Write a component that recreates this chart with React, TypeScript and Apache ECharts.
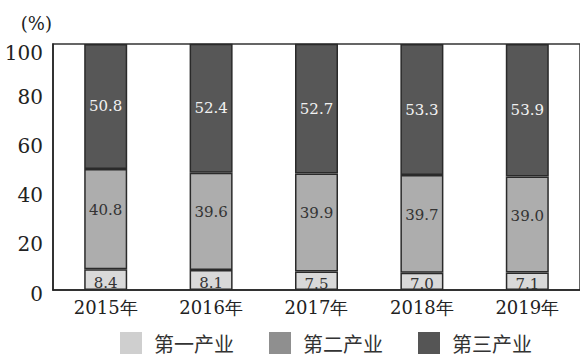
import React, { useEffect, useRef } from "react";
import * as echarts from "echarts";

const categories = ["2015年", "2016年", "2017年", "2018年", "2019年"];
const primary = [8.4, 8.1, 7.5, 7.0, 7.1];
const secondary = [40.8, 39.6, 39.9, 39.7, 39.0];
const tertiary = [50.8, 52.4, 52.7, 53.3, 53.9];
const seriesNames = ["第一产业", "第二产业", "第三产业"];
const yTicks = [0, 20, 40, 60, 80, 100];

const SERIF = "DejaVu Serif";
const CJK = "Noto Sans CJK SC";

export default function App() {
  const ref = useRef<HTMLDivElement>(null);
  useEffect(() => {
    if (!ref.current) return;
    const chart = echarts.init(ref.current, undefined, { renderer: "svg" });
    const border = { borderColor: "#2a2a2a", borderWidth: 1.5 };
    const fmt = (p: any) => p.value.toFixed(1);
    chart.setOption({
      animation: false,
      backgroundColor: "#ffffff",
      grid: {
        left: 53,
        right: -5,
        top: 44,
        bottom: 66,
        show: true,
        borderColor: "#333",
        borderWidth: 1.5,
        backgroundColor: "transparent",
      },
      legend: {
        left: 115,
        top: 327,
        itemWidth: 22,
        itemHeight: 22,
        itemGap: 35,
        icon: "rect",
        textStyle: {
          fontFamily: CJK,
          fontSize: 20,
          color: "#333",
          padding: [0, 0, 0, 7],
        },
        data: [
          { name: seriesNames[0], itemStyle: { color: "#cfcfcf", borderWidth: 0 } },
          { name: seriesNames[1], itemStyle: { color: "#8f8f8f", borderWidth: 0 } },
          { name: seriesNames[2], itemStyle: { color: "#555555", borderWidth: 0 } },
        ],
      },
      xAxis: {
        type: "category",
        data: categories,
        axisLine: { lineStyle: { color: "#222", width: 1.5 } },
        axisTick: { show: false },
        axisLabel: { fontFamily: SERIF, fontSize: 18, color: "#222", margin: 8 },
      },
      yAxis: {
        type: "value",
        min: yTicks[0],
        max: yTicks[yTicks.length - 1],
        interval: 20,
        name: "(%)",
        nameGap: 12,
        nameTextStyle: { fontFamily: SERIF, fontSize: 18, color: "#222", align: "right", padding: [0, 1, 0, 0] },
        axisLine: { show: true, lineStyle: { color: "#222", width: 1.5 } },
        axisTick: { show: false },
        splitLine: { show: false },
        axisLabel: {
          fontFamily: SERIF,
          fontSize: 20,
          color: "#222",
          margin: 10,
          formatter: (v: number) => (v === 100 ? `{t|${v}}` : `{n|${v}}`),
          rich: {
            t: { fontFamily: SERIF, fontSize: 20, color: "#222", padding: [17, 0, 0, 0] },
            n: { fontFamily: SERIF, fontSize: 20, color: "#222", padding: [7, 0, 0, 0] },
          },
        },
      },
      series: [
        {
          name: seriesNames[0],
          type: "bar",
          stack: "s",
          barWidth: 43,
          data: primary,
          itemStyle: { color: "#d9d9d9", ...border },
          label: { show: true, position: "inside", offset: [0, 3], fontFamily: SERIF, fontSize: 15, color: "#333", formatter: fmt },
        },
        {
          name: seriesNames[1],
          type: "bar",
          stack: "s",
          barWidth: 43,
          data: secondary,
          itemStyle: { color: "#adadad", ...border },
          label: { show: true, position: "inside", offset: [0, -9], fontFamily: SERIF, fontSize: 15, color: "#333", formatter: fmt },
        },
        {
          name: seriesNames[2],
          type: "bar",
          stack: "s",
          barWidth: 43,
          data: tertiary,
          itemStyle: { color: "#575757", ...border },
          label: { show: true, position: "inside", fontFamily: SERIF, fontSize: 15, color: "#f2f2f2", formatter: fmt },
        },
      ],
    });
    return () => chart.dispose();
  }, []);
  return (
    <div
      ref={ref}
      style={{ position: "fixed", left: 0, top: 0, width: 580, height: 356 }}
    />
  );
}
